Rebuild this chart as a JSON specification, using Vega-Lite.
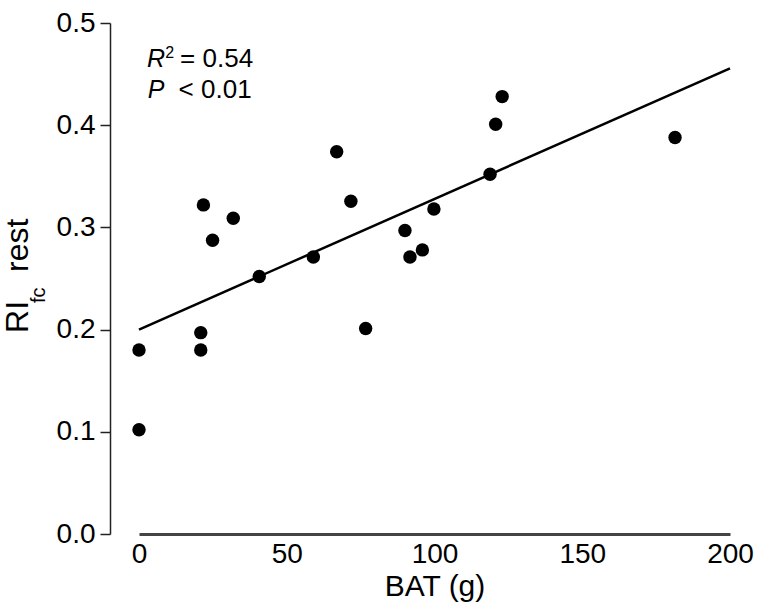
{
  "$schema": "https://vega.github.io/schema/vega-lite/v6.json",
  "width": 591,
  "height": 511,
  "autosize": {"type": "none"},
  "padding": {"left": 139, "top": 23, "right": 27, "bottom": 71},
  "background": "white",
  "config": {"view": {"stroke": null}, "font": "Liberation Sans"},
  "data": {
    "values": [
      {"BAT": 0, "RI": 0.180},
      {"BAT": 0, "RI": 0.102},
      {"BAT": 20.9, "RI": 0.197},
      {"BAT": 20.9, "RI": 0.180},
      {"BAT": 21.8, "RI": 0.322},
      {"BAT": 24.9, "RI": 0.2875},
      {"BAT": 31.9, "RI": 0.309},
      {"BAT": 40.7, "RI": 0.252},
      {"BAT": 59.0, "RI": 0.271},
      {"BAT": 66.9, "RI": 0.374},
      {"BAT": 71.7, "RI": 0.3256},
      {"BAT": 76.7, "RI": 0.201},
      {"BAT": 90.0, "RI": 0.297},
      {"BAT": 91.7, "RI": 0.271},
      {"BAT": 95.9, "RI": 0.278},
      {"BAT": 99.8, "RI": 0.318},
      {"BAT": 118.8, "RI": 0.352},
      {"BAT": 120.7, "RI": 0.401},
      {"BAT": 122.9, "RI": 0.428},
      {"BAT": 181.4, "RI": 0.388}
    ]
  },
  "layer": [
    {
      "transform": [{"regression": "RI", "on": "BAT", "extent": [0, 200]}],
      "mark": {"type": "line", "color": "black", "strokeWidth": 2.5},
      "encoding": {
        "x": {
          "field": "BAT", "type": "quantitative",
          "scale": {"domain": [0, 200], "nice": false, "zero": false},
          "axis": {
            "title": "BAT (g)", "values": [0, 50, 100, 150, 200], "ticks": false, "grid": false,
            "domainColor": "#444", "domainWidth": 3, "labelFontSize": 28, "labelColor": "black",
            "labelPadding": 6, "labelFlush": false, "labelOverlap": false,
            "titleFontSize": 30, "titleFontWeight": "normal", "titleColor": "black", "titlePadding": 3
          }
        },
        "y": {
          "field": "RI", "type": "quantitative",
          "scale": {"domain": [0, 0.5], "nice": false},
          "axis": {
            "title": null, "values": [0, 0.1, 0.2, 0.3, 0.4, 0.5], "format": ".1f", "offset": 29,
            "tickSize": 10, "tickWidth": 1.5, "tickColor": "#222", "domainColor": "#222", "domainWidth": 1.5,
            "labelFontSize": 28, "labelPadding": 5, "labelColor": "black", "grid": false,
            "labelFlush": false, "labelOverlap": false
          }
        }
      }
    },
    {
      "mark": {"type": "circle", "color": "black", "opacity": 1, "size": 180},
      "encoding": {
        "x": {"field": "BAT", "type": "quantitative"},
        "y": {"field": "RI", "type": "quantitative"}
      }
    },
    {
      "data": {"values": [{}]},
      "mark": {"type": "text", "text": "RI", "angle": 270, "align": "left", "baseline": "alphabetic", "fontSize": 32, "color": "black"},
      "encoding": {"x": {"datum": -37.6, "type": "quantitative"}, "y": {"datum": 0.1967, "type": "quantitative"}}
    },
    {
      "data": {"values": [{}]},
      "mark": {"type": "text", "text": "fc", "angle": 270, "align": "left", "baseline": "alphabetic", "fontSize": 20, "color": "black"},
      "encoding": {"x": {"datum": -31.8, "type": "quantitative"}, "y": {"datum": 0.226, "type": "quantitative"}}
    },
    {
      "data": {"values": [{}]},
      "mark": {"type": "text", "text": "rest", "angle": 270, "align": "left", "baseline": "alphabetic", "fontSize": 32, "color": "black"},
      "encoding": {"x": {"datum": -37.6, "type": "quantitative"}, "y": {"datum": 0.2564, "type": "quantitative"}}
    },
    {
      "data": {"values": [{}]},
      "mark": {"type": "text", "text": "R", "fontStyle": "italic", "align": "left", "baseline": "alphabetic", "fontSize": 25, "color": "black"},
      "encoding": {"x": {"datum": 2.7, "type": "quantitative"}, "y": {"datum": 0.457, "type": "quantitative"}}
    },
    {
      "data": {"values": [{}]},
      "mark": {"type": "text", "text": "2", "align": "left", "baseline": "alphabetic", "fontSize": 16, "color": "black"},
      "encoding": {"x": {"datum": 8.9, "type": "quantitative"}, "y": {"datum": 0.4658, "type": "quantitative"}}
    },
    {
      "data": {"values": [{}]},
      "mark": {"type": "text", "text": "= 0.54", "align": "left", "baseline": "alphabetic", "fontSize": 26, "color": "black"},
      "encoding": {"x": {"datum": 13.9, "type": "quantitative"}, "y": {"datum": 0.457, "type": "quantitative"}}
    },
    {
      "data": {"values": [{}]},
      "mark": {"type": "text", "text": "P", "fontStyle": "italic", "align": "left", "baseline": "alphabetic", "fontSize": 25, "color": "black"},
      "encoding": {"x": {"datum": 3.0, "type": "quantitative"}, "y": {"datum": 0.4266, "type": "quantitative"}}
    },
    {
      "data": {"values": [{}]},
      "mark": {"type": "text", "text": "< 0.01", "align": "left", "baseline": "alphabetic", "fontSize": 26, "color": "black"},
      "encoding": {"x": {"datum": 13.4, "type": "quantitative"}, "y": {"datum": 0.4266, "type": "quantitative"}}
    }
  ]
}
